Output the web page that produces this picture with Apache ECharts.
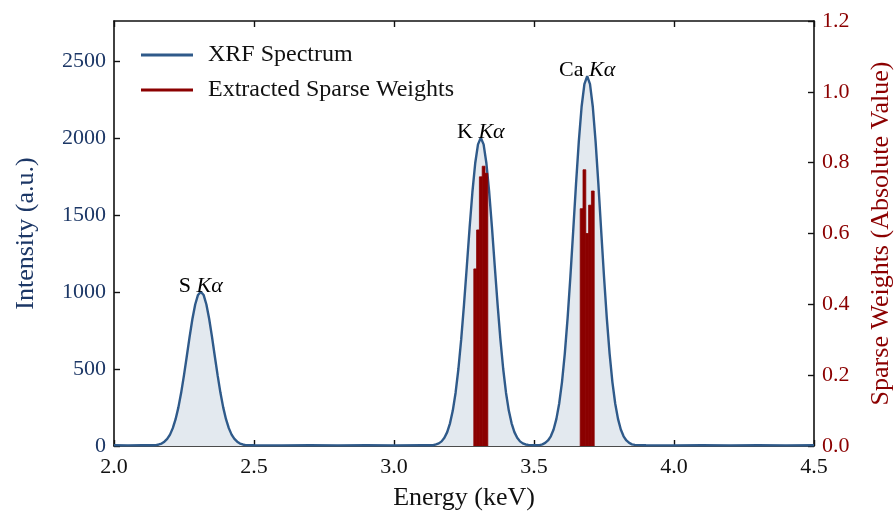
<!DOCTYPE html>
<html>
<head>
<meta charset="utf-8">
<script src="https://cdn.jsdelivr.net/npm/echarts@6/dist/echarts.min.js"></script>
<style>html,body{margin:0;padding:0;background:#fff}#c{width:896px;height:512px}</style>
</head>
<body>
<div id="c"></div>
<script>
// ---- data ----
const energy = [
  2.00, 2.05, 2.10, 2.14,
  2.15, 2.16, 2.17, 2.18, 2.19, 2.20, 2.21, 2.22, 2.23, 2.24, 2.25, 2.26, 2.27, 2.28, 2.29, 2.30,
  2.31, 2.32, 2.33, 2.34, 2.35, 2.36, 2.37, 2.38, 2.39, 2.40, 2.41, 2.42, 2.43, 2.44, 2.45, 2.46, 2.47,
  2.50, 2.60, 2.70, 2.80, 2.90, 3.00, 3.10, 3.14,
  3.15, 3.16, 3.17, 3.18, 3.19, 3.20, 3.21, 3.22, 3.23, 3.24, 3.25, 3.26, 3.27, 3.28, 3.29, 3.30,
  3.31, 3.32, 3.33, 3.34, 3.35, 3.36, 3.37, 3.38, 3.39, 3.40, 3.41, 3.42, 3.43, 3.44, 3.45, 3.46, 3.47,
  3.48, 3.50, 3.52,
  3.53, 3.54, 3.55, 3.56, 3.57, 3.58, 3.59, 3.60, 3.61, 3.62, 3.63, 3.64, 3.65, 3.66, 3.67, 3.68,
  3.69, 3.70, 3.71, 3.72, 3.73, 3.74, 3.75, 3.76, 3.77, 3.78, 3.79, 3.80, 3.81, 3.82, 3.83, 3.84, 3.85,
  3.86, 3.90, 4.00, 4.10, 4.20, 4.30, 4.40, 4.50
];
const intensity = [
  5, 4, 6, 5,
  6, 10, 16, 28, 46, 74, 116, 174, 251, 347, 460, 583, 709, 825, 919, 981,
  1002, 981, 919, 825, 709, 583, 460, 347, 251, 174, 116, 74, 46, 28, 16, 10, 6,
  5, 4, 5, 4, 5, 4, 5, 5,
  10, 17, 30, 53, 90, 147, 230, 346, 500, 692, 918, 1164, 1416, 1648, 1836, 1959,
  2002, 1959, 1836, 1648, 1416, 1164, 918, 692, 500, 346, 230, 147, 90, 53, 30, 17, 10,
  7, 5, 6,
  11, 20, 36, 63, 107, 176, 276, 415, 600, 830, 1101, 1396, 1699, 1977, 2203, 2350,
  2402, 2350, 2203, 1977, 1699, 1396, 1101, 830, 600, 415, 276, 176, 107, 63, 36, 20, 11,
  7, 5, 4, 5, 4, 5, 4, 5
];
const weightEnergy = [3.29, 3.30, 3.31, 3.32, 3.33, 3.67, 3.68, 3.69, 3.70, 3.71];
const weightValue  = [0.50, 0.61, 0.76, 0.79, 0.77, 0.67, 0.78, 0.60, 0.68, 0.72];
const peakNames  = ['S', 'K', 'Ca'];
const peakEnergy = [2.31, 3.31, 3.69];
const peakHeight = [1000, 2000, 2400];
const xTicks = ['2.0', '2.5', '3.0', '3.5', '4.0', '4.5'];

// ---- styling ----
const FONT = '"Liberation Serif", "Times New Roman", serif';
const BLUE = '#2f5a8a';
const NAVY = '#1c3766';
const RED = '#8b0000';
const BIN = 0.01;

const spectrum = energy.map((e, i) => [e, intensity[i]]);
const weights = weightEnergy.map((e, i) => [e, weightValue[i]]);
const peaks = peakEnergy.map((e, i) => [e, peakHeight[i], peakNames[i]]);

const chart = echarts.init(document.getElementById('c'), null, {renderer: 'canvas'});
chart.setOption({
  animation: false,
  backgroundColor: '#fff',
  textStyle: {fontFamily: FONT},
  grid: {left: 114, right: 82, top: 21, bottom: 66, containLabel: false, outerBoundsMode: 'none'},
  legend: {
    orient: 'vertical', left: 136, top: 38, itemWidth: 52, itemHeight: 3, itemGap: 11,
    textStyle: {fontFamily: FONT, fontSize: 24, color: '#111', padding: [0, 0, 0, 10]},
    data: [
      {name: 'XRF Spectrum', icon: 'rect', itemStyle: {color: BLUE}},
      {name: 'Extracted Sparse Weights', icon: 'rect', itemStyle: {color: RED}}
    ]
  },
  xAxis: [{
    type: 'value', min: 2.0, max: 4.5, interval: 0.5,
    name: 'Energy (keV)', nameLocation: 'middle', nameGap: 39,
    nameTextStyle: {fontFamily: FONT, fontSize: 26, color: '#111'},
    axisLine: {show: true, lineStyle: {color: '#111', width: 1.6}},
    axisTick: {show: true, inside: true, length: 6, lineStyle: {color: '#111', width: 1.4}},
    axisLabel: {fontFamily: FONT, fontSize: 22, color: '#111', margin: 10,
      formatter: (v) => xTicks[Math.round((v - 2.0) / 0.5)] || ''},
    splitLine: {show: false}
  }, {
    type: 'value', position: 'top', min: 2.0, max: 4.5, interval: 0.5,
    axisLine: {show: true, onZero: false, lineStyle: {color: '#111', width: 1.6}},
    axisTick: {show: true, inside: true, length: 6, lineStyle: {color: '#111', width: 1.4}},
    axisLabel: {show: false}, splitLine: {show: false}
  }],
  yAxis: [{
    type: 'value', min: 0, max: 2760, interval: 500, position: 'left',
    name: 'Intensity (a.u.)', nameLocation: 'middle', nameGap: 75, nameRotate: 90,
    nameTextStyle: {fontFamily: FONT, fontSize: 26, color: NAVY},
    axisLine: {show: true, lineStyle: {color: '#111', width: 1.6}},
    axisTick: {show: true, inside: true, length: 6, lineStyle: {color: '#111', width: 1.4}},
    axisLabel: {fontFamily: FONT, fontSize: 22, color: NAVY, margin: 8, showMaxLabel: false,
      formatter: (v) => String(v)},
    splitLine: {show: false}
  }, {
    type: 'value', min: 0, max: 1.2, interval: 0.2, position: 'right',
    name: 'Sparse Weights (Absolute Value)', nameLocation: 'middle', nameGap: 54, nameRotate: 90,
    nameTextStyle: {fontFamily: FONT, fontSize: 26, color: RED},
    axisLine: {show: true, lineStyle: {color: '#111', width: 1.6}},
    axisTick: {show: true, inside: true, length: 6, lineStyle: {color: '#111', width: 1.4}},
    axisLabel: {fontFamily: FONT, fontSize: 22, color: RED, margin: 8,
      formatter: (v) => v.toFixed(1)},
    splitLine: {show: false}
  }],
  series: [{
    name: 'XRF Spectrum', type: 'line', xAxisIndex: 0, yAxisIndex: 0,
    data: spectrum, showSymbol: false, smooth: false, z: 2,
    lineStyle: {color: BLUE, width: 2.4},
    itemStyle: {color: BLUE},
    areaStyle: {color: '#e3e9ef', opacity: 1}
  }, {
    name: 'Extracted Sparse Weights', type: 'custom', xAxisIndex: 0, yAxisIndex: 1,
    data: weights, z: 3, clip: true,
    renderItem: function (params, api) {
      const x = api.value(0), y = api.value(1);
      const p0 = api.coord([x - BIN / 2, y]);
      const p1 = api.coord([x + BIN / 2, 0]);
      return {type: 'rect',
        shape: {x: p0[0], y: p0[1], width: p1[0] - p0[0], height: p1[1] - p0[1]},
        style: {fill: RED, stroke: RED, lineWidth: 0.8}};
    },
    itemStyle: {color: RED}
  }, {
    name: 'peaks', type: 'scatter', xAxisIndex: 0, yAxisIndex: 0,
    data: peaks, symbolSize: 0, silent: true, z: 5,
    itemStyle: {opacity: 1},
    label: {
      show: true, position: 'top', distance: -5, opacity: 1,
      formatter: (p) => '{r|' + p.data[2] + ' }{i|Kα}',
      rich: {
        r: {fontFamily: FONT, fontSize: 22, color: '#000'},
        i: {fontFamily: FONT, fontSize: 22, color: '#000', fontStyle: 'italic'}
      }
    }
  }]
});
</script>
</body>
</html>
